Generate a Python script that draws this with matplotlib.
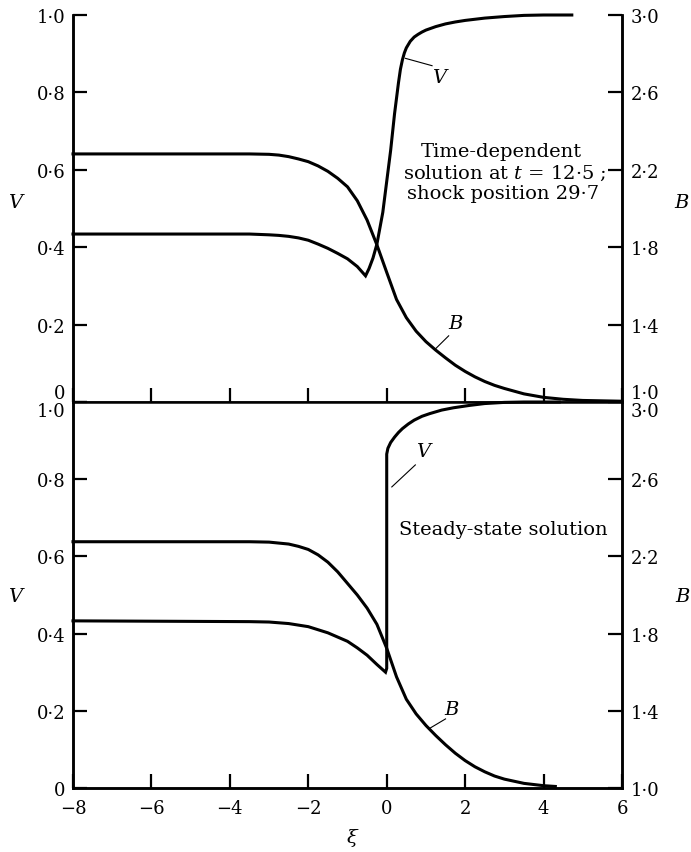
import matplotlib
matplotlib.use('Agg')
import matplotlib.pyplot as plt

plt.rcParams['font.family'] = ['DejaVu Serif']
plt.rcParams['mathtext.fontset'] = 'dejavuserif'

# ---------------- data ----------------
xi_ticks = [-8, -6, -4, -2, 0, 2, 4, 6]
xi_ticklabels = ['\u22128', '\u22126', '\u22124', '\u22122', '0', '2', '4', '6']
V_ticks = [0, 0.2, 0.4, 0.6, 0.8, 1.0]
V_ticklabels = ['0', '0\u00b72', '0\u00b74', '0\u00b76', '0\u00b78', '1\u00b70']
B_ticks = [1.0, 1.4, 1.8, 2.2, 2.6, 3.0]
B_ticklabels = ['1\u00b70', '1\u00b74', '1\u00b78', '2\u00b72', '2\u00b76', '3\u00b70']

# Top panel: time-dependent solution
top_xi_V = [-8, -3.5, -3.0, -2.75, -2.5, -2.25, -2.0, -1.75, -1.5, -1.25,
            -1.0, -0.75, -0.54, -0.45, -0.35, -0.25, -0.1, 0.0, 0.1, 0.2,
            0.3, 0.35, 0.4, 0.45, 0.5, 0.6, 0.7, 0.8, 0.9, 1.0,
            1.25, 1.5, 1.75, 2.0, 2.5, 3.0, 3.5, 4.0, 4.72]
top_V = [0.434, 0.434, 0.432, 0.4305, 0.428, 0.424, 0.418, 0.408, 0.397, 0.384,
         0.370, 0.350, 0.326, 0.345, 0.372, 0.408, 0.490, 0.570, 0.650, 0.745,
         0.825, 0.860, 0.884, 0.902, 0.915, 0.932, 0.943, 0.950, 0.956, 0.961,
         0.970, 0.977, 0.982, 0.986, 0.992, 0.996, 0.999, 1.0, 1.0]

top_xi_B = [-8, -3.5, -3.0, -2.75, -2.5, -2.25, -2.0, -1.75, -1.5, -1.25,
            -1.0, -0.75, -0.5, -0.25, 0.0, 0.25, 0.5, 0.75, 1.0, 1.25,
            1.5, 1.75, 2.0, 2.25, 2.5, 2.75, 3.0, 3.5, 4.0, 4.5, 5.0, 6.0]
top_B = [2.282, 2.282, 2.280, 2.276, 2.268, 2.256, 2.242, 2.220, 2.192, 2.156,
         2.112, 2.040, 1.940, 1.812, 1.670, 1.530, 1.436, 1.366, 1.312, 1.268,
         1.228, 1.190, 1.158, 1.130, 1.106, 1.086, 1.070, 1.042, 1.024, 1.014,
         1.008, 1.004]

# Bottom panel: steady-state solution
bot_xi_V = [-8, -3.5, -3.0, -2.5, -2.0, -1.5, -1.0, -0.75, -0.5, -0.25,
            -0.03, 0.0, 0.0, 0.03, 0.1, 0.2, 0.3, 0.4, 0.55, 0.7,
            0.9, 1.1, 1.4, 1.7, 2.1, 2.5, 3.0, 3.5, 4.4]
bot_V = [0.433, 0.431, 0.430, 0.426, 0.418, 0.402, 0.380, 0.363, 0.344, 0.320,
         0.300, 0.310, 0.865, 0.880, 0.895, 0.909, 0.921, 0.931, 0.943, 0.953,
         0.963, 0.970, 0.979, 0.985, 0.991, 0.996, 0.999, 1.0, 1.0]

bot_xi_B = [-8, -3.5, -3.0, -2.5, -2.25, -2.0, -1.75, -1.5, -1.25, -1.0,
            -0.75, -0.5, -0.25, 0.0, 0.25, 0.5, 0.75, 1.0, 1.25, 1.5,
            1.75, 2.0, 2.25, 2.5, 2.75, 3.0, 3.5, 4.0, 4.3]
bot_B = [2.276, 2.276, 2.274, 2.264, 2.252, 2.236, 2.208, 2.170, 2.120, 2.060,
         2.000, 1.932, 1.848, 1.724, 1.576, 1.460, 1.384, 1.324, 1.272, 1.224,
         1.180, 1.142, 1.110, 1.084, 1.062, 1.046, 1.024, 1.012, 1.008]

# ---------------- figure ----------------
W, H = 691, 853
fig = plt.figure(figsize=(W / 100, H / 100), dpi=100)

def fx(x):
    return x / W

def fy(y):
    return 1 - y / H

x0, x1 = 73, 622
ax1 = fig.add_axes([fx(x0), fy(403), fx(x1) - fx(x0), fy(16) - fy(403)])
ax2 = fig.add_axes([fx(x0), fy(789), fx(x1) - fx(x0), fy(403) - fy(789)])

LW = 2.2
TICKFS = 13
for ax, is_top in ((ax1, True), (ax2, False)):
    axB = ax.twinx()
    ax.set_xlim(-8, 6)
    ax.set_ylim(0, 1)
    axB.set_ylim(1, 3)
    ax.set_xticks(xi_ticks)
    ax.set_yticks(V_ticks)
    ax.set_yticklabels(V_ticklabels)
    axB.set_yticks(B_ticks)
    axB.set_yticklabels(B_ticklabels)
    if is_top:
        ax.set_xticklabels([''] * len(xi_ticks))
    else:
        ax.set_xticklabels(xi_ticklabels)
    for a in (ax, axB):
        a.spines['top'].set_visible(False)
        for s in ('left', 'right', 'bottom'):
            a.spines[s].set_linewidth(1.8)
    ax.tick_params(axis='x', direction='in', length=10, width=1.6,
                   labelsize=TICKFS, pad=8)
    ax.tick_params(axis='y', direction='in', length=10, width=1.6,
                   labelsize=TICKFS, pad=5.5)
    axB.tick_params(axis='y', direction='in', length=10, width=1.6,
                    labelsize=TICKFS, pad=6.5)
    if is_top:
        ax.yaxis.get_major_ticks()[0].label1.set_va('bottom')
        axB.yaxis.get_major_ticks()[0].label2.set_va('bottom')
        ax.plot(top_xi_V, top_V, color='black', lw=LW, clip_on=False,
                solid_joinstyle='miter')
        axB.plot(top_xi_B, top_B, color='black', lw=LW, clip_on=False)
    else:
        ax.yaxis.get_major_ticks()[-1].label1.set_va('top')
        axB.yaxis.get_major_ticks()[-1].label2.set_va('top')
        ax.plot(bot_xi_V, bot_V, color='black', lw=LW, clip_on=False,
                solid_joinstyle='miter')
        axB.plot(bot_xi_B, bot_B, color='black', lw=LW, clip_on=False)

# leader lines and curve labels
LBLFS = 14
ax1.plot([0.477, 1.156], [0.888, 0.869], color='black', lw=0.8)
ax1.text(1.33, 0.84, 'V', fontsize=LBLFS, style='italic', ha='center', va='center')
ax1.plot([1.24, 1.58], [0.137, 0.171], color='black', lw=0.8)
ax1.text(1.75, 0.205, 'B', fontsize=LBLFS, style='italic', ha='center', va='center')

ax2.plot([0.13, 0.73], [0.78, 0.837], color='black', lw=0.8)
ax2.text(0.94, 0.873, 'V', fontsize=LBLFS, style='italic', ha='center', va='center')
ax2.plot([1.07, 1.5], [0.153, 0.179], color='black', lw=0.8)
ax2.text(1.66, 0.205, 'B', fontsize=LBLFS, style='italic', ha='center', va='center')

# annotations
ANFS = 14
ax1.text(2.93, 0.636, 'Time-dependent', fontsize=ANFS, ha='center', va='baseline')
ax1.text(3.0, 0.579, 'solution at $t$ = 12\u00b75 ;', fontsize=ANFS, ha='center', va='baseline')
ax1.text(2.96, 0.527, 'shock position 29\u00b77', fontsize=ANFS, ha='center', va='baseline')
ax2.text(0.31, 0.671, 'Steady-state solution', fontsize=ANFS, ha='left', va='center')

# axis labels
fig.text(fx(15), fy(203), 'V', fontsize=LBLFS, style='italic', ha='center', va='center')
fig.text(fx(15), fy(597), 'V', fontsize=LBLFS, style='italic', ha='center', va='center')
fig.text(fx(681), fy(203), 'B', fontsize=LBLFS, style='italic', ha='center', va='center')
fig.text(fx(682), fy(597), 'B', fontsize=LBLFS, style='italic', ha='center', va='center')
fig.text(fx(352), fy(838), '\u03be', fontsize=LBLFS, style='italic', ha='center', va='center')

fig.savefig('out.png', dpi=100)
